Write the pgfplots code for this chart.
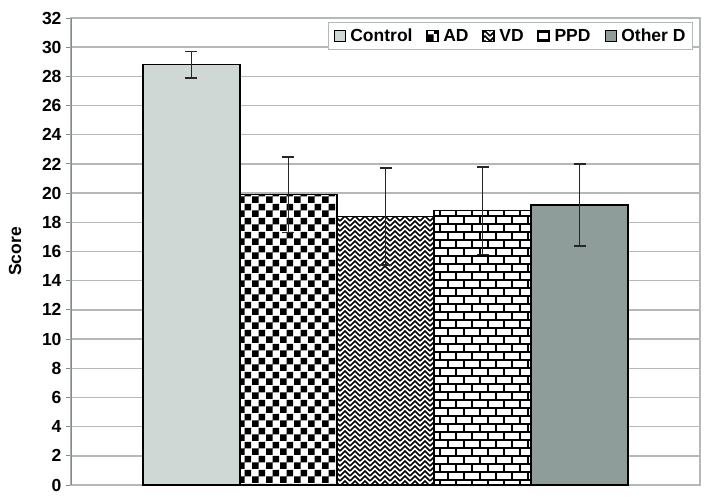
\documentclass[border=0pt]{standalone}
\usepackage{fontspec}
\setmainfont{Liberation Sans}
\usepackage{pgfplots}
\pgfplotsset{compat=1.18}
\usetikzlibrary{patterns}
\definecolor{ctrl}{HTML}{D0D8D6}
\definecolor{othd}{HTML}{8E9C9A}
\definecolor{gridc}{HTML}{B4B8B8}
\definecolor{axc}{HTML}{7F8A8A}
\pgfdeclarepatternformonly{mychecker}{\pgfpointorigin}{\pgfqpoint{14pt}{14pt}}{\pgfqpoint{14pt}{14pt}}{%
  \pgfpathrectangle{\pgfpointorigin}{\pgfqpoint{7pt}{7pt}}%
  \pgfpathrectangle{\pgfqpoint{7pt}{7pt}}{\pgfqpoint{7pt}{7pt}}%
  \pgfusepath{fill}}
\pgfdeclarepatternformonly{mybricks}{\pgfqpoint{-1pt}{-1pt}}{\pgfqpoint{17pt}{17pt}}{\pgfqpoint{16pt}{16pt}}{%
  \pgfsetlinewidth{2.8pt}%
  \pgfpathmoveto{\pgfqpoint{-1pt}{0pt}}\pgfpathlineto{\pgfqpoint{17pt}{0pt}}%
  \pgfpathmoveto{\pgfqpoint{-1pt}{8pt}}\pgfpathlineto{\pgfqpoint{17pt}{8pt}}%
  \pgfpathmoveto{\pgfqpoint{0pt}{0pt}}\pgfpathlineto{\pgfqpoint{0pt}{8pt}}%
  \pgfpathmoveto{\pgfqpoint{8pt}{8pt}}\pgfpathlineto{\pgfqpoint{8pt}{16pt}}%
  \pgfusepath{stroke}}
\pgfdeclarepatternformonly{myzigzag}{\pgfqpoint{-1pt}{-1pt}}{\pgfqpoint{11pt}{6pt}}{\pgfqpoint{10pt}{5pt}}{%
  \pgfsetlinewidth{1.5pt}%
  \pgfpathmoveto{\pgfqpoint{0pt}{0pt}}\pgfpathlineto{\pgfqpoint{5pt}{5pt}}\pgfpathlineto{\pgfqpoint{10pt}{0pt}}%
  \pgfusepath{stroke}}
\begin{document}
\begin{tikzpicture}
\useasboundingbox (-71pt,-11pt) rectangle (637pt,485pt);
\begin{axis}[
  scale only axis,
  width=629pt, height=467pt,
  xmin=-0.242, xmax=6.242,
  ymin=0, ymax=32,
  ytick={0,2,...,32},
  xtick=\empty,
  ytick pos=left,
  tick align=outside,
  major tick length=5pt,
  ymajorgrids,
  grid style={draw=gridc, line width=1.4pt},
  axis line style={draw=gridc, line width=1.2pt},
  ytick style={draw=axc, line width=1pt},
  /pgf/number format/assume math mode=true,
  tick label style={font=\fontsize{17.5}{20}\selectfont\bfseries},
  yticklabel style={xshift=-1pt},
  ylabel={Score},
  ylabel style={font=\fontsize{17.5}{20}\selectfont\bfseries, at={(axis description cs:-0.089,0.5)}, anchor=center},
  legend columns=-1,
  legend style={at={(1,1)}, anchor=north east, xshift=-7pt, yshift=-4pt,
    draw=gridc, line width=1pt, font=\fontsize{17.5}{20}\selectfont\bfseries,
    inner xsep=5pt, inner ysep=4.5pt,
    /tikz/every odd column/.append style={column sep=3pt},
    /tikz/every even column/.append style={column sep=12pt}},
  legend image code/.code={\draw[#1, line width=0.8pt] (0pt,-5.5pt) rectangle (11pt,5.5pt);},
  error bars/y dir=both, error bars/y explicit,
  error bars/error bar style={black!85, line width=1.8pt},
  error bars/error mark options={black!85, rotate=90, mark size=6pt, line width=1.8pt},
]
\addplot[ybar, bar width=1, bar shift=0, draw=black, line width=1.5pt, fill=ctrl]
  coordinates {(1,28.8) +- (0,0.9)};
\addlegendentry{Control}
\addplot[ybar, bar width=1, bar shift=0, draw=black, line width=1.5pt, preaction={fill=white}, pattern=mychecker]
  coordinates {(2,19.9) +- (0,2.6)};
\addlegendentry{AD}
\addplot[ybar, bar width=1, bar shift=0, draw=black, line width=1.5pt, preaction={fill=white}, pattern=myzigzag]
  coordinates {(3,18.4) +- (0,3.3)};
\addlegendentry{VD}
\addplot[ybar, bar width=1, bar shift=0, draw=black, line width=1.5pt, preaction={fill=white}, pattern=mybricks]
  coordinates {(4,18.8) +- (0,3.0)};
\addlegendentry{PPD}
\addplot[ybar, bar width=1, bar shift=0, draw=black, line width=1.5pt, fill=othd]
  coordinates {(5,19.2) +- (0,2.8)};
\addlegendentry{Other D}
\draw[axc, line width=1.2pt] (rel axis cs:0,0) -- (rel axis cs:0,1);
\end{axis}
\end{tikzpicture}
\end{document}
